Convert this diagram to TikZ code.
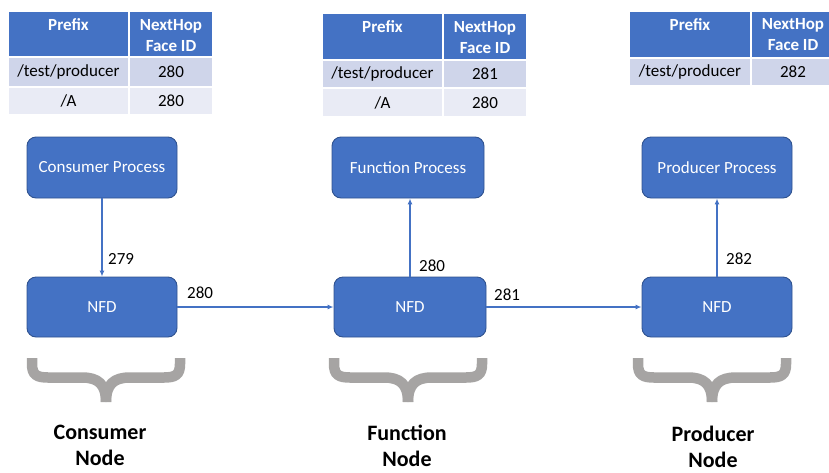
\documentclass[tikz,border=0pt]{standalone}
\usepackage{fontspec}
\setmainfont{Carlito}
\usetikzlibrary{arrows.meta}
\definecolor{obl}{RGB}{68,114,196}
\definecolor{oedge}{RGB}{47,82,143}
\definecolor{rowa}{RGB}{207,213,234}
\definecolor{rowb}{RGB}{233,235,245}
\definecolor{brgray}{RGB}{166,164,163}
\tikzset{
  pbox/.style={draw=oedge, line width=0.9pt, fill=obl, rounded corners=9pt, text=white,
    font=\fontsize{17}{21}\selectfont, inner sep=0pt},
  hcell/.style={draw=white, line width=1.5pt, fill=obl, inner sep=0pt},
  acell/.style={draw=white, line width=1.5pt, fill=rowa, inner sep=0pt, font=\fontsize{17}{21}\selectfont},
  bcell/.style={draw=white, line width=1.5pt, fill=rowb, inner sep=0pt, font=\fontsize{17}{21}\selectfont},
  htext/.style={text=white, font=\bfseries\fontsize{17}{21}\selectfont, align=center, inner sep=0pt},
  flow/.style={draw=obl, line width=1.2pt, -{Latex[length=6pt,width=5pt]}},
  flabel/.style={font=\fontsize{17}{21}\selectfont, inner sep=0pt, anchor=west},
  nlabel/.style={font=\bfseries\fontsize{22}{26}\selectfont, align=center, inner sep=0pt},
  nbrace/.pic={
    \draw[brgray, line width=10.5pt]
      (-74,0) -- (-74,6) .. controls (-74,17) and (-69,19.5) .. (-58,19.5)
      -- (-24,19.5) .. controls (-8,19.5) and (0,26) .. (0,44);
    \draw[brgray, line width=10.5pt]
      (74,0) -- (74,6) .. controls (74,17) and (69,19.5) .. (58,19.5)
      -- (24,19.5) .. controls (8,19.5) and (0,26) .. (0,44);
  }
}
\begin{document}
\begin{tikzpicture}[x=1pt,y=-1pt]
\useasboundingbox (0,0) rectangle (829,472);
\clip (0,0) rectangle (829,472);

% ---- Table 1 ----
\node[hcell, minimum width=121pt, minimum height=46pt] (t1ha) at (68.5,34) {};
\node[hcell, minimum width=84pt, minimum height=46pt] (t1hb) at (171,34) {};
\node[htext] (t1pa) at (68.5,25) {Prefix};
\node[htext] (t1pb) at (171,35.5) {NextHop\\Face ID};
\node[acell, minimum width=121pt, minimum height=30pt] (t1a1) at (68.5,72) {/test/producer};
\node[acell, minimum width=84pt, minimum height=30pt] (t1a2) at (171,72) {280};
\node[bcell, minimum width=121pt, minimum height=28pt] (t1b1) at (68.5,101) {/A};
\node[bcell, minimum width=84pt, minimum height=28pt] (t1b2) at (171,101) {280};

% ---- Table 2 ----
\node[hcell, minimum width=121pt, minimum height=47pt] (t2ha) at (382.5,36.5) {};
\node[hcell, minimum width=84pt, minimum height=47pt] (t2hb) at (485,36.5) {};
\node[htext] (t2pa) at (382.5,27) {Prefix};
\node[htext] (t2pb) at (485,37.5) {NextHop\\Face ID};
\node[acell, minimum width=121pt, minimum height=28pt] (t2a1) at (382.5,74) {/test/producer};
\node[acell, minimum width=84pt, minimum height=28pt] (t2a2) at (485,74) {281};
\node[bcell, minimum width=121pt, minimum height=29pt] (t2b1) at (382.5,102.5) {/A};
\node[bcell, minimum width=84pt, minimum height=29pt] (t2b2) at (485,102.5) {280};

% ---- Table 3 ----
\node[hcell, minimum width=122pt, minimum height=47pt] (t3ha) at (690,34.5) {};
\node[hcell, minimum width=84pt, minimum height=47pt] (t3hb) at (793,34.5) {};
\node[htext] (t3pa) at (690,25) {Prefix};
\node[htext] (t3pb) at (793,35) {NextHop\\Face ID};
\node[acell, minimum width=122pt, minimum height=28pt] (t3a1) at (690,72) {/test/producer};
\node[acell, minimum width=84pt, minimum height=28pt] (t3a2) at (793,72) {282};

% ---- Process boxes ----
\node[pbox, minimum width=150pt, minimum height=61pt] (cp) at (102,167.5) {Consumer Process};
\node[pbox, minimum width=152pt, minimum height=61pt] (fp) at (408,167.5) {Function Process};
\node[pbox, minimum width=150pt, minimum height=61pt] (pp) at (717,167.5) {Producer Process};

\node[pbox, minimum width=150pt, minimum height=60pt] (n1) at (102,307) {NFD};
\node[pbox, minimum width=152pt, minimum height=60pt] (n2) at (410,307) {NFD};
\node[pbox, minimum width=150pt, minimum height=60pt] (n3) at (717,307) {NFD};

% ---- Connectors ----
\draw[flow] (cp.south) -- (n1.north);
\draw[flow] (n1.east) -- (n2.west);
\draw[flow] (n2.north) -- (n2.north |- fp.south);
\draw[flow] (n2.east) -- (n3.west);
\draw[flow] (n3.north) -- (n3.north |- pp.south);

% ---- Face labels ----
\node[flabel] (l279) at (108,259) {279};
\node[flabel] (l280a) at (187,293) {280};
\node[flabel] (l280b) at (419,266) {280};
\node[flabel] (l281) at (494,295) {281};
\node[flabel] (l282) at (726,259) {282};

% ---- Braces ----
\pic at (106,358) {nbrace};
\pic at (408,358) {nbrace};
\pic at (712,358) {nbrace};

% ---- Node labels ----
\node[nlabel] (cn) at (100,445) {Consumer\\Node};
\node[nlabel] (fn) at (407,446) {Function\\Node};
\node[nlabel] (pn) at (713,447) {Producer\\Node};
\end{tikzpicture}
\end{document}
